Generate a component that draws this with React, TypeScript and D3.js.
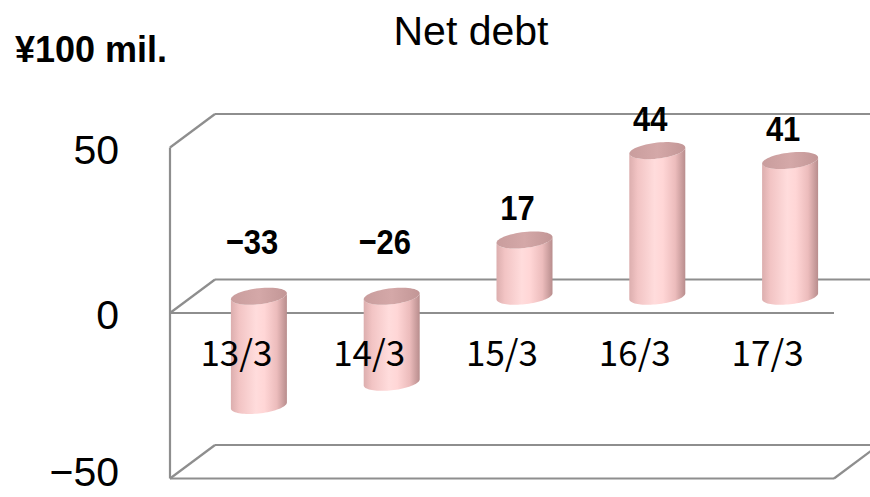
import React from "react";
import * as d3 from "d3";

const categories = ["13/3", "14/3", "15/3", "16/3", "17/3"];
const values = [-33, -26, 17, 44, 41];
const yTicks = [50, 0, -50];
const title = "Net debt";
const unitLabel = "¥100 mil.";

const W = 870;
const H = 497;

// back-wall scales
const yBack = d3.scaleLinear().domain([-50, 50]).range([445, 114]);
const xBack = d3.scaleBand<string>().domain(categories).range([215, 879]);
const DX = -45; // depth offset to front plane
const DY = 33.5;
const yFront = (v: number) => yBack(v) + DY;
const yMid = (v: number) => yBack(v) + DY / 2;
const xMid = (c: string) => (xBack(c) as number) + xBack.bandwidth() / 2 + DX / 2;

const RX = 28;
const RY = 8;
const SHEAR = 0.107;

const line = d3.line<[number, number]>();

function ellipsePts(cx: number, cy: number, t0: number, t1: number, n = 40): [number, number][] {
  return d3.range(n + 1).map((i) => {
    const t = t0 + ((t1 - t0) * i) / n;
    const dx = RX * Math.cos(t);
    return [cx + dx, cy + RY * Math.sin(t) - SHEAR * dx] as [number, number];
  });
}

function Cylinder({ c, v }: { c: string; v: number }) {
  const cx = xMid(c);
  const yT = yMid(Math.max(v, 0));
  const yB = yMid(Math.min(v, 0));
  const body: [number, number][] = [
    [cx - RX, yT + SHEAR * RX],
    ...ellipsePts(cx, yB, Math.PI, 0),
    [cx + RX, yT - SHEAR * RX],
    ...ellipsePts(cx, yT, 0, Math.PI),
  ];
  const top = ellipsePts(cx, yT, 0, 2 * Math.PI, 60);
  return (
    <g>
      <path d={(line(body) as string) + "Z"} fill="url(#cylBody)" />
      <path d={(line(top) as string) + "Z"} fill="url(#cylTop)" />
    </g>
  );
}

export default function App() {
  const gridColor = "#8e8e8e";
  const xLeftFront = 170;
  const xLeftBack = 215;
  const xRightFront = 834;
  const xRightBack = 879;
  return (
    <svg width={W} height={H} style={{ display: "block", position: "absolute", left: 0, top: 0 }}>
      <defs>
        <linearGradient id="cylBody" x1="0" y1="0" x2="1" y2="0">
          <stop offset="0" stopColor="#dcaeae" />
          <stop offset="0.15" stopColor="#f2c4c4" />
          <stop offset="0.45" stopColor="#ffdcdc" />
          <stop offset="0.6" stopColor="#ffd6d6" />
          <stop offset="0.82" stopColor="#ecbcbc" />
          <stop offset="1" stopColor="#b88d8d" />
        </linearGradient>
        <linearGradient id="cylTop" x1="0" y1="0" x2="1" y2="0">
          <stop offset="0" stopColor="#c99d9d" />
          <stop offset="0.5" stopColor="#d4a8a8" />
          <stop offset="1" stopColor="#c29696" />
        </linearGradient>
      </defs>
      <rect width={W} height={H} fill="#ffffff" />

      {/* grid / walls */}
      <g stroke={gridColor} strokeWidth={2.2} fill="none">
        {yTicks.map((t) => (
          <g key={t}>
            <line x1={xLeftBack} x2={xRightBack} y1={yBack(t)} y2={yBack(t)} />
            <line x1={xLeftFront} x2={xLeftBack} y1={yFront(t)} y2={yBack(t)} />
          </g>
        ))}
        <line x1={xLeftFront} x2={xLeftFront} y1={yFront(50)} y2={yFront(-50)} />
        <line x1={xLeftFront} x2={xRightFront} y1={yFront(0)} y2={yFront(0)} />
        <line x1={xLeftFront} x2={xRightFront} y1={yFront(-50)} y2={yFront(-50)} />
        <line x1={xRightFront} x2={xRightBack} y1={yFront(-50)} y2={yBack(-50)} />
      </g>

      {/* bars */}
      {categories.map((c, i) => (
        <Cylinder key={c} c={c} v={values[i]} />
      ))}

      {/* category labels */}
      <g fontFamily="'Noto Sans CJK JP', 'Noto Sans', sans-serif" fontSize={35} fill="#000" textAnchor="middle">
        {categories.map((c) => (
          <text key={c} x={xMid(c) + DX / 2} y={yFront(0) + 53}>
            {c}
          </text>
        ))}
      </g>

      {/* data labels */}
      <g fontFamily="'Liberation Sans', Arial, sans-serif" fontWeight="bold" fontSize={36} fill="#000" textAnchor="middle">
        {categories.map((c, i) => {
          const v = values[i];
          const y = v >= 0 ? yMid(v) - 20 : yMid(0) - 42;
          return (
            <text key={c} transform={`translate(${xMid(c) - 7},${y}) scale(0.86,1)`}>
              {v < 0 ? "\u2212" + Math.abs(v) : String(v)}
            </text>
          );
        })}
      </g>

      {/* y axis labels */}
      <g fontFamily="'Liberation Sans', Arial, sans-serif" fontSize={41} fill="#000" textAnchor="end">
        {yTicks.map((t) => (
          <text key={t} x={119} y={Math.min(yFront(t) + 16, 486)}>
            {t < 0 ? "\u2212" + Math.abs(t) : String(t)}
          </text>
        ))}
      </g>

      {/* title and unit */}
      <text x={471} y={45} textAnchor="middle" fontFamily="'Liberation Sans', Arial, sans-serif" fontSize={41} fill="#000">
        {title}
      </text>
      <text x={15} y={62} fontFamily="'Liberation Sans', Arial, sans-serif" fontWeight="bold" fontSize={36} fill="#000">
        {unitLabel}
      </text>
    </svg>
  );
}
